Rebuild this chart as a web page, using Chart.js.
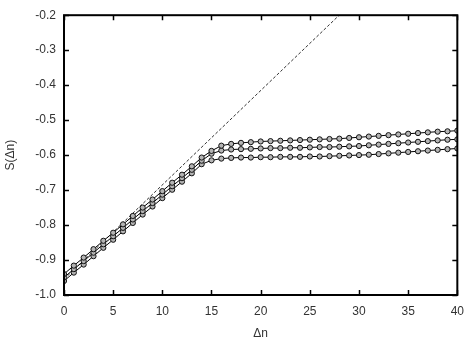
<!DOCTYPE html>
<html>
<head>
<meta charset="utf-8">
<script src="https://cdn.jsdelivr.net/npm/chart.js@4.4.1/dist/chart.umd.min.js"></script>
<style>
html,body{margin:0;padding:0;background:#fff;}
#wrap{width:473px;height:338px;}
</style>
</head>
<body>
<div id="wrap"><canvas id="c" width="473" height="338"></canvas></div>
<script>
const xValues = [0,1,2,3,4,5,6,7,8,9,10,11,12,13,14,15,16,17,18,19,20,21,22,23,24,25,26,27,28,29,30,31,32,33,34,35,36,37,38,39,40];
const seriesA = [-0.940,-0.916,-0.893,-0.869,-0.845,-0.822,-0.798,-0.774,-0.750,-0.727,-0.703,-0.679,-0.656,-0.632,-0.607,-0.588,-0.573,-0.568,-0.565,-0.563,-0.561,-0.560,-0.559,-0.558,-0.557,-0.556,-0.555,-0.554,-0.553,-0.551,-0.549,-0.547,-0.545,-0.543,-0.541,-0.539,-0.537,-0.535,-0.533,-0.532,-0.530];
const seriesB = [-0.950,-0.926,-0.903,-0.879,-0.855,-0.832,-0.808,-0.784,-0.760,-0.737,-0.713,-0.689,-0.666,-0.642,-0.616,-0.596,-0.587,-0.584,-0.583,-0.582,-0.581,-0.580,-0.580,-0.579,-0.579,-0.578,-0.577,-0.577,-0.576,-0.575,-0.574,-0.572,-0.570,-0.568,-0.566,-0.564,-0.562,-0.560,-0.558,-0.556,-0.555];
const seriesC = [-0.960,-0.936,-0.913,-0.889,-0.865,-0.842,-0.818,-0.794,-0.770,-0.747,-0.723,-0.699,-0.676,-0.652,-0.626,-0.615,-0.610,-0.608,-0.607,-0.607,-0.606,-0.606,-0.605,-0.605,-0.605,-0.604,-0.604,-0.603,-0.602,-0.601,-0.600,-0.599,-0.597,-0.595,-0.593,-0.591,-0.589,-0.587,-0.585,-0.583,-0.581];
const guideX = [0, 40];
const guideY = [-0.955, 0.124];
const xTicks = [0,5,10,15,20,25,30,35,40];
const yTicks = [-1.0,-0.9,-0.8,-0.7,-0.6,-0.5,-0.4,-0.3,-0.2];

function pts(xs, ys){ return xs.map((x,i)=>({x:x,y:ys[i]})); }

const seriesStyle = {
  showLine:true, borderColor:'#000', borderWidth:1,
  pointRadius:2.6, pointBorderWidth:1, pointBorderColor:'#111', pointBackgroundColor:'#b4b4b4',
  pointStyle:'circle', tension:0
};

const frame = {
  id:'frame',
  afterDraw(chart){
    const {ctx, chartArea:a, scales:{x, y}} = chart;
    ctx.save();
    ctx.strokeStyle='#000';
    ctx.lineWidth=1.5;
    const L=5;
    ctx.beginPath();
    xTicks.forEach(v=>{
      const px = Math.round(x.getPixelForValue(v))+0.5;
      ctx.moveTo(px,a.bottom); ctx.lineTo(px,a.bottom-L);
      ctx.moveTo(px,a.top); ctx.lineTo(px,a.top+L);
    });
    yTicks.forEach(v=>{
      const py = Math.round(y.getPixelForValue(v))+0.5;
      ctx.moveTo(a.left,py); ctx.lineTo(a.left+L,py);
      ctx.moveTo(a.right,py); ctx.lineTo(a.right-L,py);
    });
    ctx.stroke();
    ctx.lineWidth=2;
    ctx.strokeRect(a.left, a.top, a.right-a.left, a.bottom-a.top);
    ctx.restore();
  }
};

Chart.defaults.font.family = '"Liberation Sans", Arial, sans-serif';
Chart.defaults.font.size = 12;
Chart.defaults.color = '#333';

new Chart(document.getElementById('c'), {
  type:'scatter',
  data:{
    datasets:[
      Object.assign({label:'A', data:pts(xValues, seriesA)}, seriesStyle),
      Object.assign({label:'B', data:pts(xValues, seriesB)}, seriesStyle),
      Object.assign({label:'C', data:pts(xValues, seriesC)}, seriesStyle),
      {label:'guide', data:pts(guideX, guideY), showLine:true, borderColor:'#333', borderWidth:1,
       borderDash:[3,2], pointRadius:0, tension:0}
    ]
  },
  options:{
    responsive:false, animation:false,
    layout:{padding:{top:5, right:13, left:0, bottom:0}},
    plugins:{legend:{display:false}, tooltip:{enabled:false}},
    scales:{
      x:{
        type:'linear', min:0, max:40,
        afterBuildTicks(s){ s.ticks = xTicks.map(v=>({value:v})); },
        grid:{display:false, drawTicks:false},
        border:{display:false},
        ticks:{padding:9, maxRotation:0, callback:v=>String(v)},
        title:{display:true, text:'Δn', padding:{top:8,bottom:-3}},
        afterFit(s){ s.height = 43; }
      },
      y:{
        type:'linear', min:-1.0, max:-0.2,
        afterBuildTicks(s){ s.ticks = yTicks.map(v=>({value:v})); },
        grid:{display:false, drawTicks:false},
        border:{display:false},
        ticks:{padding:8, callback:v=>Number(v).toFixed(1)},
        title:{display:true, text:'S(Δn)', padding:{top:3,bottom:8}},
        afterFit(s){ s.width = 64; }
      }
    }
  },
  plugins:[frame]
});
</script>
</body>
</html>
